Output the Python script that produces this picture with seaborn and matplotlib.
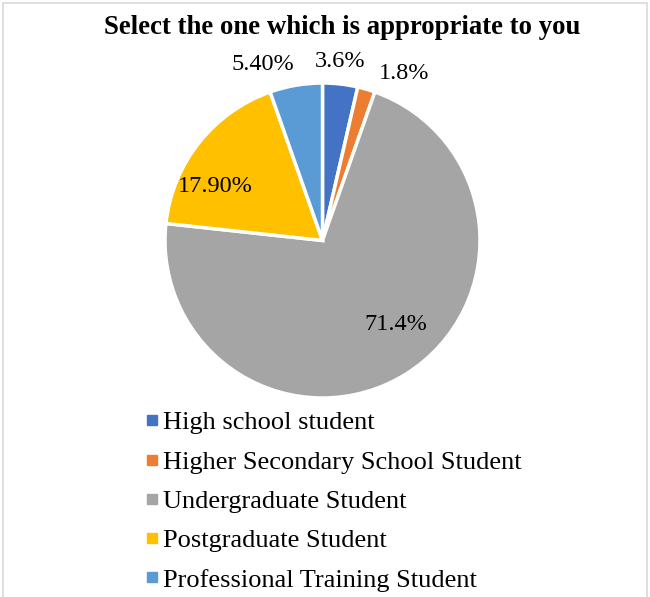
import numpy as np
import matplotlib
matplotlib.use("Agg")
import matplotlib.pyplot as plt
from matplotlib.patches import Rectangle
from matplotlib.lines import Line2D
import seaborn as sns

categories = ["High school student", "Higher Secondary School Student",
              "Undergraduate Student", "Postgraduate Student",
              "Professional Training Student"]
values = [3.6, 1.8, 71.4, 17.9, 5.4]
value_labels = ["3.6%", "1.8%", "71.4%", "17.90%", "5.40%"]
title = "Select the one which is appropriate to you"

colors = ["#4472C4", "#ED7D31", "#A5A5A5", "#FFC000", "#5B9BD5"]

sns.set_theme(style="white")
plt.rcParams["font.family"] = ["Liberation Serif", "DejaVu Serif"]
plt.rcParams["text.color"] = "#000000"

fig = plt.figure(figsize=(6.5, 5.97), dpi=100)
ax = fig.add_axes([165 / 650, 199 / 597, 315 / 650, 315 / 597])

wedges, _ = ax.pie(values, colors=colors, startangle=90, counterclock=False,
                   wedgeprops=dict(edgecolor="white", linewidth=2.5))
ax.set_xlim(-1, 1)
ax.set_ylim(-1, 1)
ax.set_aspect("equal")

# label placement: (radius factor, angular offset in degrees) per slice
label_pos = [(1.14, 1.0), (1.18, -10.0), (0.71, 9.0), (0.76, 11.5), (1.18, 9.0)]
for w, lab, (rf, off) in zip(wedges, value_labels, label_pos):
    ang = np.deg2rad((w.theta1 + w.theta2) / 2 + off)
    ax.text(rf * np.cos(ang), rf * np.sin(ang), lab, ha="center", va="center",
            fontsize=17.5, color="#000000", clip_on=False)

fig.text(342 / 650, 1 - 28 / 597, title, ha="center", va="center",
         fontsize=19.3, fontweight="bold", color="#000000")

handles = [Line2D([0], [0], marker="s", linestyle="none", markersize=6.5,
                  markerfacecolor=c, markeredgecolor=c) for c in colors]
leg = fig.legend(handles, categories, loc="upper left",
                 bbox_to_anchor=(145 / 650, 1 - 411 / 597), frameon=False,
                 fontsize=19, handlelength=0.5, handletextpad=0.17,
                 labelspacing=0.6, borderaxespad=0, borderpad=0)
for t in leg.get_texts():
    t.set_color("#000000")

fig.add_artist(Rectangle((3 / 650, -0.1), 644 / 650, 1.1 - 3 / 597,
                         transform=fig.transFigure, fill=False,
                         edgecolor="#d9d9d9", linewidth=1.2))

fig.savefig("out.png", dpi=100, facecolor="white")
